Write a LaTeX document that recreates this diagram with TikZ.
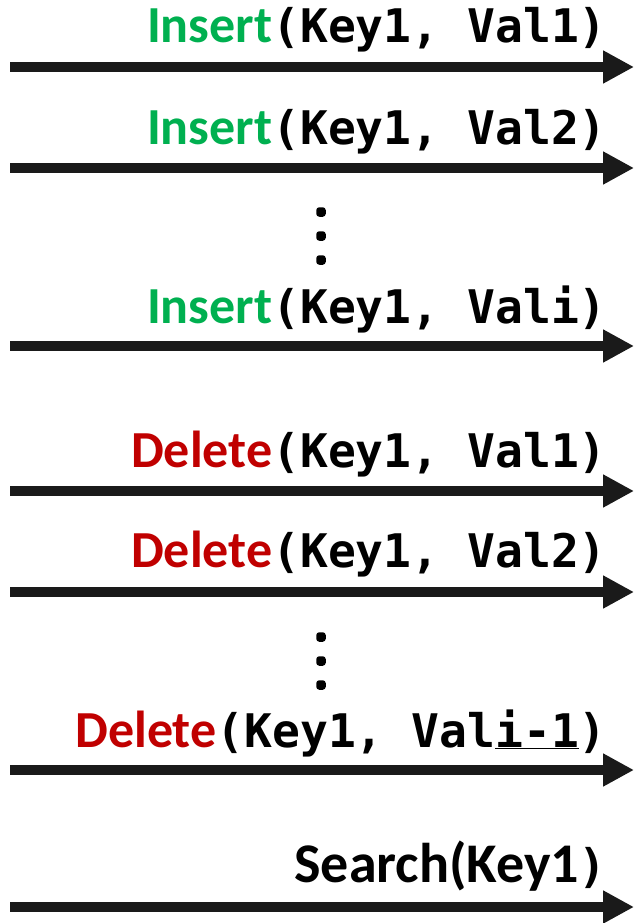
\documentclass[tikz,border=0pt]{standalone}
\usepackage{fontspec}
\usetikzlibrary{arrows.meta}
\setmainfont{Carlito}
\setmonofont{DejaVu Sans Mono}
\definecolor{insgreen}{HTML}{00B050}
\definecolor{delred}{HTML}{C00000}
\definecolor{arrowgray}{HTML}{1A1A1A}
% operation name in sans bold, argument list in bold monospace
\newcommand{\opname}[3][52]{{\fontsize{#1}{60}\selectfont\bfseries\textcolor{#2}{#3}}}
\newcommand{\args}[1]{{\fontsize{46.3}{55}\selectfont\ttfamily\bfseries #1}}
\begin{document}
\begin{tikzpicture}[x=1pt,y=-1pt,
  timeline/.style={draw=arrowgray,line width=10pt,
    -{Triangle[length=31pt,width=31pt]}},
  oplabel/.style={anchor=base east,inner sep=0pt,text=black},
  vdot/.style={fill=black,rounded corners=3pt,minimum size=9.5pt,inner sep=0pt}]
\useasboundingbox (0,0) rectangle (634,923);
% start and end points of the seven operation arrows
\foreach \n/\y in {1/67,2/168,3/346,4/491,5/592,6/770,7/907}{
  \coordinate (s\n) at (10,\y);
  \coordinate (e\n) at (634,\y);
}
\foreach \n in {1,...,7}{\draw[timeline] (s\n) -- (e\n);}
% operation labels
\node[oplabel] (l1) at (607,43)  {\opname{insgreen}{Insert}\args{(Key1, Val1)}};
\node[oplabel] (l2) at (607,145) {\opname{insgreen}{Insert}\args{(Key1, Val2)}};
\node[oplabel] (l3) at (607,323) {\opname{insgreen}{Insert}\args{(Key1, Vali)}};
\node[oplabel] (l4) at (607,467) {\opname{delred}{Delete}\args{(Key1, Val1)}};
\node[oplabel] (l5) at (607,567) {\opname{delred}{Delete}\args{(Key1, Val2)}};
\node[oplabel] (l6) at (607,747) {\opname{delred}{Delete}\args{(Key1, Val\underline{i-1})}};
\node[oplabel] (l7) at (607,882) {\opname[56]{black}{Search(Key1}\args{)}};
% vertical ellipses
\foreach \y [count=\k] in {212,236,260}{\node[vdot] (da\k) at (321,\y) {};}
\foreach \y [count=\k] in {637,661,685}{\node[vdot] (db\k) at (321,\y) {};}
\end{tikzpicture}
\end{document}
